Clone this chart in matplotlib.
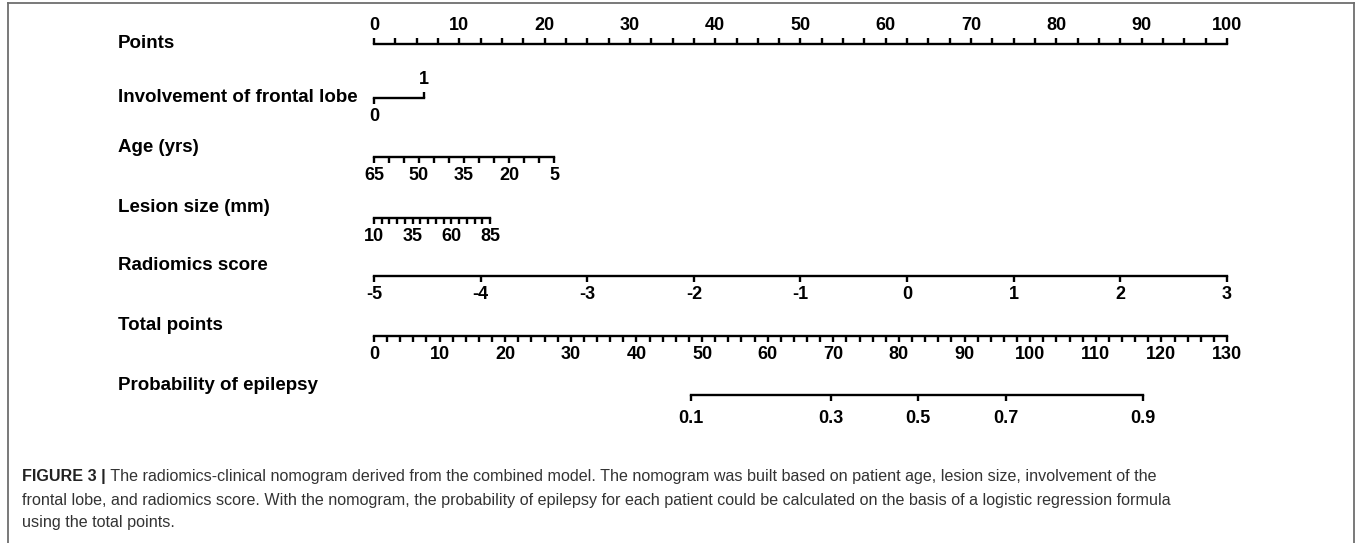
import matplotlib
matplotlib.use("Agg")
import matplotlib.pyplot as plt
from matplotlib.lines import Line2D
from matplotlib.ticker import MultipleLocator, FixedLocator

plt.rcParams["font.family"] = ["Liberation Sans", "DejaVu Sans"]
plt.rcParams["axes.unicode_minus"] = False

W, H = 1357, 543

# Points row
points_range = (0, 100)
# Involvement of frontal lobe: value -> points
frontal_vals = [0, 1]
frontal_pts = [0, 5.85]
# Age (yrs): endpoints -> points
age_range = (65, 5)
age_pts = (0, 21.1)
age_labels = [65, 50, 35, 20, 5]
# Lesion size (mm)
lesion_range = (10, 85)
lesion_pts = (0, 13.6)
lesion_labels = [10, 35, 60, 85]
# Radiomics score
rad_range = (-5, 3)
rad_pts = (0, 100)
rad_labels = [-5, -4, -3, -2, -1, 0, 1, 2, 3]
# Total points
total_range = (0, 130)
# Probability of epilepsy, placed on the total points scale
prob_labels = ["0.1", "0.3", "0.5", "0.7", "0.9"]
prob_total = [48.3, 69.7, 82.9, 96.3, 117.2]

row_names = ["Points", "Involvement of frontal lobe", "Age (yrs)", "Lesion size (mm)",
             "Radiomics score", "Total points", "Probability of epilepsy"]

# layout (pixels)
X0, X100 = 374, 1227
PX = (X100 - X0) / 100.0
line_y = [44, 98, 157, 218, 276, 336, 395]
name_y = [44, 97, 148, 207, 265, 325, 385]
NAME_X = 118

fig = plt.figure(figsize=(W / 100, H / 100), dpi=100)

LW = 1.7
TICKLEN = 4.5
TICKFS = 13


def row_axes(p_lo, p_hi, ypix):
    left = (X0 + p_lo * PX) / W
    width = (p_hi - p_lo) * PX / W
    ax = fig.add_axes([left, 1 - ypix / H, width, 1e-6])
    ax.set_facecolor("none")
    ax.yaxis.set_visible(False)
    for s in ax.spines.values():
        s.set_visible(False)
    ax.tick_params(axis="x", which="both", direction="out", length=TICKLEN,
                   width=LW, color="black", labelsize=TICKFS, pad=3)
    return ax


def style_labels(ax):
    for t in ax.get_xticklabels():
        t.set_fontweight("bold")


# Points
ax = row_axes(0, 100, line_y[0])
ax.set_xlim(*points_range)
ax.spines["top"].set_visible(True)
ax.spines["top"].set_linewidth(LW)
ax.xaxis.set_ticks_position("top")
ax.xaxis.set_label_position("top")
ax.xaxis.set_major_locator(MultipleLocator(10))
ax.xaxis.set_minor_locator(MultipleLocator(2.5))
style_labels(ax)

# Involvement of frontal lobe
ax = row_axes(frontal_pts[0], frontal_pts[1], line_y[1])
ax.set_xlim(frontal_vals[0], frontal_vals[1])
ax.spines["bottom"].set_visible(True)
ax.spines["bottom"].set_linewidth(LW)
ax.set_xticks([frontal_vals[0]])
ax.set_xticklabels([str(frontal_vals[0])], fontweight="bold")
sec = ax.secondary_xaxis("top")
sec.spines["top"].set_visible(False)
sec.set_xticks([frontal_vals[1]])
sec.set_xticklabels([str(frontal_vals[1])], fontweight="bold")
sec.tick_params(axis="x", direction="out", length=TICKLEN, width=LW, labelsize=TICKFS, pad=3)

# Age
ax = row_axes(age_pts[0], age_pts[1], line_y[2])
ax.set_xlim(*age_range)
ax.spines["bottom"].set_visible(True)
ax.spines["bottom"].set_linewidth(LW)
ax.xaxis.set_major_locator(FixedLocator(age_labels))
ax.xaxis.set_minor_locator(MultipleLocator(5))
style_labels(ax)

# Lesion size
ax = row_axes(lesion_pts[0], lesion_pts[1], line_y[3])
ax.set_xlim(*lesion_range)
ax.spines["bottom"].set_visible(True)
ax.spines["bottom"].set_linewidth(LW)
ax.xaxis.set_major_locator(FixedLocator(lesion_labels))
ax.xaxis.set_minor_locator(MultipleLocator(5))
style_labels(ax)

# Radiomics score
ax = row_axes(rad_pts[0], rad_pts[1], line_y[4])
ax.set_xlim(*rad_range)
ax.spines["bottom"].set_visible(True)
ax.spines["bottom"].set_linewidth(LW)
ax.xaxis.set_major_locator(FixedLocator(rad_labels))
style_labels(ax)

# Total points
ax = row_axes(0, 100, line_y[5])
ax.set_xlim(*total_range)
ax.spines["bottom"].set_visible(True)
ax.spines["bottom"].set_linewidth(LW)
ax.xaxis.set_major_locator(MultipleLocator(10))
ax.xaxis.set_minor_locator(MultipleLocator(2))
style_labels(ax)

# Probability of epilepsy
scale = 100.0 / (total_range[1] - total_range[0])
ax = row_axes(prob_total[0] * scale, prob_total[-1] * scale, line_y[6])
ax.set_xlim(prob_total[0], prob_total[-1])
ax.spines["bottom"].set_visible(True)
ax.spines["bottom"].set_linewidth(LW)
ax.set_xticks(prob_total)
ax.set_xticklabels(prob_labels, fontweight="bold")
ax.tick_params(axis="x", pad=6)

# row names
for name, y in zip(row_names, name_y):
    fig.text(NAME_X / W, 1 - y / H, name, fontsize=13.5, fontweight="bold",
             ha="left", va="center")

# frame
frame_kw = dict(color="#6e6e6e", lw=1.3, transform=fig.transFigure)
fig.add_artist(Line2D([8 / W, 1354 / W], [1 - 3 / H, 1 - 3 / H], **frame_kw))
fig.add_artist(Line2D([8 / W, 8 / W], [0, 1 - 3 / H], **frame_kw))
fig.add_artist(Line2D([1354 / W, 1354 / W], [0, 1 - 3 / H], **frame_kw))

# caption
CAPFS = 11.6
cap_lines = [
    " The radiomics-clinical nomogram derived from the combined model. The nomogram was built based on patient age, lesion size, involvement of the",
    "frontal lobe, and radiomics score. With the nomogram, the probability of epilepsy for each patient could be calculated on the basis of a logistic regression formula",
    "using the total points.",
]
cap_y = [477, 500, 522]
head = fig.text(22 / W, 1 - cap_y[0] / H, "FIGURE 3 |", fontsize=CAPFS, fontweight="bold",
                color="#222222", ha="left", va="center")
plt.annotate(cap_lines[0], xy=(1, 0.5), xycoords=head, va="center", ha="left",
             fontsize=CAPFS, color="#333333", annotation_clip=False)
for txt, y in zip(cap_lines[1:], cap_y[1:]):
    fig.text(22 / W, 1 - y / H, txt, fontsize=CAPFS, color="#333333", ha="left", va="center")

fig.savefig("out.png", dpi=100)
